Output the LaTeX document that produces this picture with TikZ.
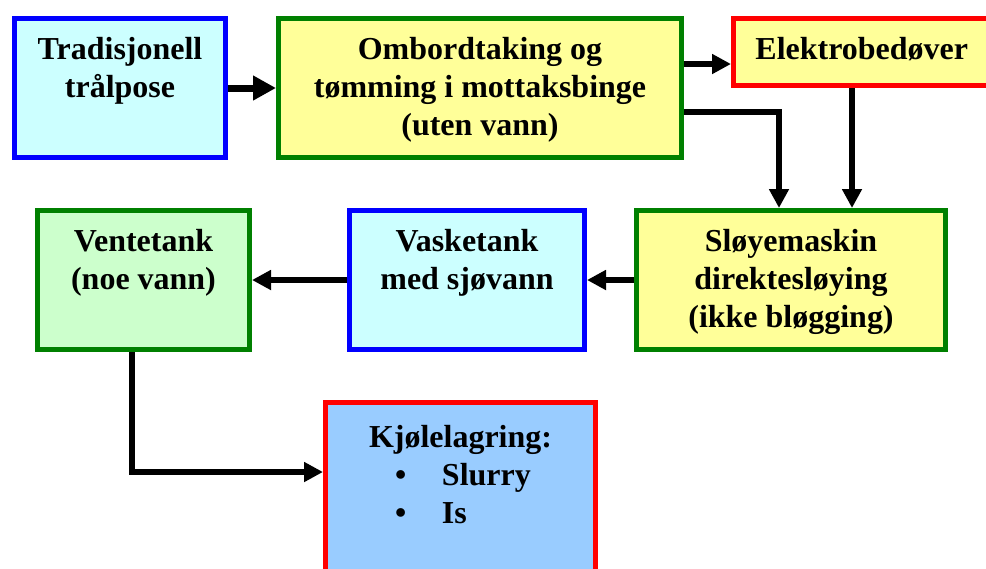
\documentclass[tikz,border=0pt]{standalone}
\usepackage{fontspec}
\setmainfont{Liberation Serif}
\usepackage{tikz}
\usetikzlibrary{positioning,arrows.meta}

\definecolor{lysblaa}{HTML}{CCFFFF}
\definecolor{lysgul}{HTML}{FFFF99}
\definecolor{lysgronn}{HTML}{CCFFCC}
\definecolor{himmelblaa}{HTML}{99CCFF}
\definecolor{kantblaa}{HTML}{0000FF}
\definecolor{kantgronn}{HTML}{008000}
\definecolor{kantrod}{HTML}{FF0000}

\newcommand{\bokstekst}[3]{\parbox[t][#2][t]{#1}{\centering\rule{0pt}{0.82cm}#3}}

\tikzset{
  boks/.style={draw, line width=0.1cm, inner sep=0pt, anchor=north west,
    font=\fontsize{18.2}{21.5}\selectfont\bfseries},
  pil/.style={line width=0.11cm, -{Triangle[length=0.38cm,width=0.38cm]}},
  tykkpil/.style={line width=0.14cm, -{Triangle[length=0.46cm,width=0.47cm]}}
}

\begin{document}
\begin{tikzpicture}
  \useasboundingbox (0,0) rectangle (19.72,-11.36);

  % Top row
  \node[boks, fill=lysblaa, draw=kantblaa] (trad) at (0.24,-0.32)
    {\bokstekst{4.22cm}{2.78cm}{Tradisjonell\\trålpose}};
  \node[boks, fill=lysgul, draw=kantgronn] (ombord) at (5.52,-0.32)
    {\bokstekst{8.06cm}{2.78cm}{Ombordtaking og\\tømming i mottaksbinge\\(uten vann)}};
  \node[boks, fill=lysgul, draw=kantrod] (elektro) at (14.62,-0.32)
    {\bokstekst{5.13cm}{1.34cm}{Elektrobedøver}};

  % Middle row
  \node[boks, fill=lysgronn, draw=kantgronn] (vente) at (0.70,-4.16)
    {\bokstekst{4.24cm}{2.78cm}{Ventetank\\(noe vann)}};
  \node[boks, fill=lysblaa, draw=kantblaa] (vask) at (6.94,-4.16)
    {\bokstekst{4.70cm}{2.78cm}{Vasketank\\med sjøvann}};
  \node[boks, fill=lysgul, draw=kantgronn] (sloye) at (12.68,-4.16)
    {\bokstekst{6.18cm}{2.78cm}{Sløyemaskin\\direktesløying\\(ikke bløgging)}};

  % Storage
  \node[boks, fill=himmelblaa, draw=kantrod] (kjole) at (6.46,-8.00)
    {\bokstekst{5.40cm}{3.6cm}{\rule{0pt}{0.9cm}Kjølelagring:\par\raggedright
      \hspace*{1.39cm}\makebox[0.94cm][l]{\textbullet}Slurry\\
      \hspace*{1.39cm}\makebox[0.94cm][l]{\textbullet}Is}};

  % Connectors
  \coordinate (o1) at ([yshift=-0.96cm]ombord.north east);
  \coordinate (o2) at ([yshift=-1.92cm]ombord.north east);
  \coordinate (s1) at ([xshift=2.9cm]sloye.north west);
  \coordinate (e1) at ([xshift=2.42cm]elektro.south west);
  \coordinate (v1) at ([xshift=1.94cm]vente.south west);
  \coordinate (k1) at ([yshift=-1.44cm]kjole.north west);

  \draw[tykkpil] (trad) -- (ombord);
  \draw[pil] (o1) -- (o1 -| elektro.west);
  \draw[pil] (o2) -| (s1);
  \draw[pil] (e1) -- (e1 |- sloye.north);
  \draw[pil] (sloye) -- (vask);
  \draw[pil] (vask) -- (vente);
  \draw[pil] (v1) |- (k1);
\end{tikzpicture}
\end{document}
